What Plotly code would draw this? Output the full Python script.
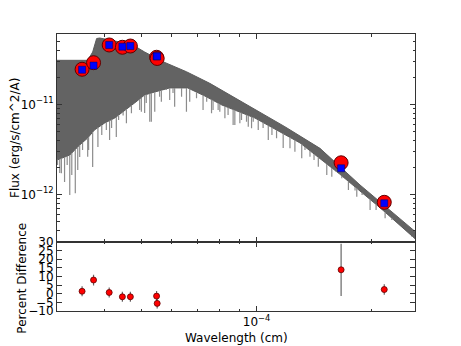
import numpy as np
import plotly.graph_objects as go
from plotly.subplots import make_subplots

# model spectrum: upper envelope, floor of the dense line forest, single deep lines
cont_wl = [3.00e-5, 3.61e-5, 3.72e-5, 3.81e-5, 3.88e-5, 4.38e-5, 4.79e-5, 5.09e-5, 5.69e-5,
           6.55e-5, 7.54e-5, 8.95e-5, 1.186e-4, 1.466e-4, 1.866e-4, 2.606e-4]
cont_flux = [3.08e-11, 3.08e-11, 3.81e-11, 5.38e-11, 5.45e-11, 4.92e-11, 4.44e-11, 3.81e-11, 2.97e-11,
             2.30e-11, 1.71e-11, 1.12e-11, 5.64e-12, 3.24e-12, 1.27e-12, 3.84e-13]

floor_wl = [3.00e-5, 3.24e-5, 3.44e-5, 3.61e-5, 3.76e-5, 4.00e-5, 4.25e-5, 4.43e-5, 4.79e-5, 5.09e-5,
            5.41e-5, 5.92e-5, 6.60e-5, 7.32e-5, 8.11e-5, 9.90e-5, 1.30e-4, 1.65e-4, 2.11e-4, 2.606e-4]
floor_flux = [2.40e-12, 2.73e-12, 3.53e-12, 4.22e-12, 5.18e-12, 6.20e-12, 7.04e-12, 8.01e-12, 1.034e-11, 1.27e-11,
              1.37e-11, 1.52e-11, 1.52e-11, 1.236e-11, 9.82e-12, 7.04e-12, 3.72e-12, 1.68e-12, 7.04e-13, 3.19e-13]

line_wl = [3.01e-5, 3.05e-5, 3.08e-5, 3.09e-5, 3.14e-5, 3.19e-5, 3.24e-5, 3.28e-5, 3.35e-5, 3.40e-5,
           3.44e-5, 3.50e-5, 3.54e-5, 3.61e-5, 3.63e-5, 3.72e-5, 3.84e-5, 3.93e-5, 4.04e-5, 4.12e-5,
           4.17e-5, 4.29e-5, 4.35e-5, 4.47e-5, 4.56e-5, 4.70e-5, 4.85e-5, 4.94e-5, 4.99e-5, 5.09e-5,
           5.14e-5, 5.25e-5, 5.30e-5, 5.41e-5, 5.57e-5, 5.63e-5, 5.80e-5, 5.92e-5, 6.04e-5, 6.10e-5,
           6.36e-5, 6.55e-5, 6.68e-5, 6.96e-5, 7.24e-5, 7.40e-5, 7.62e-5, 7.69e-5, 7.93e-5, 8.01e-5,
           8.26e-5, 8.42e-5, 8.68e-5, 8.77e-5, 9.04e-5, 9.13e-5, 9.41e-5, 9.51e-5, 9.70e-5, 9.80e-5,
           1.010e-4, 1.040e-4, 1.073e-4, 1.097e-4, 1.128e-4, 1.174e-4, 1.223e-4, 1.260e-4, 1.313e-4, 1.339e-4,
           1.380e-4, 1.414e-4, 1.451e-4, 1.527e-4, 1.574e-4, 1.615e-4, 1.672e-4, 1.740e-4, 1.811e-4, 1.830e-4,
           1.890e-4, 1.983e-4, 2.056e-4, 2.171e-4, 2.261e-4, 2.349e-4, 2.426e-4, 2.552e-4]
line_flux = [2.12e-12, 1.73e-12, 1.71e-12, 3.10e-12, 1.37e-12, 2.12e-12, 9.8e-13, 1.64e-12, 1.03e-12, 1.86e-12,
             2.60e-12, 3.10e-12, 4.80e-12, 2.62e-12, 3.10e-12, 2.01e-12, 3.35e-12, 4.56e-12, 5.18e-12, 4.01e-12,
             5.45e-12, 4.33e-12, 6.69e-12, 7.50e-12, 6.15e-12, 7.94e-12, 1.116e-11, 8.64e-12, 8.28e-12, 8.01e-12,
             1.034e-11, 6.41e-12, 6.41e-12, 8.28e-12, 1.214e-11, 1.069e-11, 1.442e-11, 1.116e-11, 1.335e-11, 9.40e-12,
             1.214e-11, 8.28e-12, 1.069e-11, 1.166e-11, 8.64e-12, 1.069e-11, 7.94e-12, 8.64e-12, 8.64e-12, 8.28e-12,
             6.99e-12, 7.61e-12, 5.89e-12, 5.89e-12, 6.15e-12, 6.69e-12, 6.41e-12, 5.64e-12, 5.41e-12, 6.41e-12,
             5.18e-12, 5.45e-12, 4.01e-12, 4.56e-12, 4.19e-12, 3.27e-12, 3.24e-12, 2.97e-12, 2.51e-12, 3.10e-12,
             2.62e-12, 2.40e-12, 2.03e-12, 1.64e-12, 1.57e-12, 1.77e-12, 1.51e-12, 1.116e-12, 1.10e-12, 9.40e-13,
             9.82e-13, 6.69e-13, 6.69e-13, 5.41e-13, 5.18e-13, 4.92e-13, 4.19e-13, 3.38e-13]

# photometry
phot_wl = [3.49e-5, 3.74e-5, 4.11e-5, 4.45e-5, 4.67e-5, 5.47e-5, 5.49e-5, 1.665e-4, 2.16e-4]
phot_flux = [2.45e-11, 2.90e-11, 4.56e-11, 4.30e-11, 4.44e-11, 3.33e-11, 3.23e-11, 2.24e-12, 8.15e-13]
model_flux = [2.42e-11, 2.69e-11, 4.56e-11, 4.37e-11, 4.44e-11, 3.41e-11, 3.41e-11, 1.945e-12, 7.94e-13]
pct_diff = [1.4, 7.9, 0.7, -1.8, -1.8, -1.4, -5.6, 13.8, 2.4]
pct_err = [2.9, 3.1, 2.9, 2.9, 2.9, 2.9, 3.0, 15.1, 3.0]

font = "DejaVu Sans"
frame = "#333333"

fig = make_subplots(rows=2, cols=1, shared_xaxes=True, vertical_spacing=0, row_heights=[0.75, 0.25])

# dense part of the spectrum as one band
band_x = list(cont_wl) + list(floor_wl[::-1])
band_y = list(cont_flux) + list(floor_flux[::-1])
fig.add_trace(go.Scatter(x=band_x, y=band_y, mode="lines", fill="toself", fillcolor="#636363",
                         line=dict(color="#5c5c5c", width=1), hoverinfo="skip"), row=1, col=1)

# deep single lines hang below the band (plotly puts fills under lines, so start them at the floor)
lfl = np.log10(floor_flux)
lx = []
ly = []
for w, f in zip(line_wl, line_flux):
    base = 10 ** np.interp(np.log10(w), np.log10(floor_wl), lfl)
    if f < base:
        lx += [w, w, None]
        ly += [base, f, None]
fig.add_trace(go.Scatter(x=lx, y=ly, mode="lines", line=dict(color="#8c8c8c", width=1.2),
                         hoverinfo="skip"), row=1, col=1)

fig.add_trace(go.Scatter(x=phot_wl, y=phot_flux, mode="markers",
                         marker=dict(symbol="circle", size=14, color="#ff0000",
                                     line=dict(color="#600000", width=1))), row=1, col=1)
fig.add_trace(go.Scatter(x=phot_wl, y=model_flux, mode="markers",
                         marker=dict(symbol="square", size=7, color="#0000ff",
                                     line=dict(color="#000060", width=0.5))), row=1, col=1)

# residuals
fig.add_hline(y=0, line=dict(color="#555555", width=1.5, dash="6px,3px"), row=2, col=1)
fig.add_trace(go.Scatter(x=phot_wl, y=pct_diff, mode="markers",
                         error_y=dict(type="data", array=pct_err, color="#666666", thickness=1.2, width=0),
                         marker=dict(symbol="circle", size=6, color="#ff0000",
                                     line=dict(color="#600000", width=0.8))), row=2, col=1)

xminor = [4e-5, 5e-5, 6e-5, 7e-5, 8e-5, 9e-5, 2e-4]
axis_common = dict(showline=True, linecolor=frame, linewidth=1, mirror="ticks", ticks="inside",
                   tickcolor=frame, ticklen=5, showgrid=False, zeroline=False, automargin=False,
                   tickfont=dict(family=font, size=12, color="black"))
fig.update_xaxes(type="log", range=[np.log10(3.0e-5), np.log10(2.6e-4)], tickvals=[1e-4],
                 ticktext=["10<sup>−4</sup>"],
                 minor=dict(ticks="inside", ticklen=2.5, tickcolor=frame, tickvals=xminor, showgrid=False),
                 **axis_common)
fig.update_yaxes(type="log", range=[-12.527, -10.219], tickvals=[1e-12, 1e-11],
                 ticktext=["10<sup>−12</sup>", "10<sup>−11</sup>"],
                 minor=dict(ticks="inside", ticklen=2.5, tickcolor=frame, showgrid=False,
                            tickvals=[3e-13, 4e-13, 5e-13, 6e-13, 7e-13, 8e-13, 9e-13,
                                      2e-12, 3e-12, 4e-12, 5e-12, 6e-12, 7e-12, 8e-12, 9e-12,
                                      2e-11, 3e-11, 4e-11, 5e-11, 6e-11]),
                 row=1, col=1, **axis_common)
fig.update_yaxes(range=[-10, 30], tickvals=[-10, -5, 0, 5, 10, 15, 20, 25, 30], row=2, col=1, **axis_common)

fig.add_annotation(text="Wavelength (cm)", xref="paper", yref="paper", x=0.5, y=-0.096,
                   showarrow=False, font=dict(family=font, size=12, color="black"), yanchor="middle")
fig.add_annotation(text="Flux (erg/s/cm^2/A)", xref="paper", yref="paper", x=-0.117, y=0.625,
                   textangle=-90, showarrow=False, font=dict(family=font, size=12, color="black"),
                   xanchor="center", yanchor="middle")
fig.add_annotation(text="Percent Difference", xref="paper", yref="paper", x=-0.098, y=0.12,
                   textangle=-90, showarrow=False, font=dict(family=font, size=12, color="black"),
                   xanchor="center", yanchor="middle")

# page body adds an 8px offset, so the figure is 8px smaller and margins are shifted
fig.update_layout(width=453, height=338, margin=dict(l=49, r=46, t=26, b=35),
                  showlegend=False, plot_bgcolor="white", paper_bgcolor="white",
                  font=dict(family=font, size=12, color="black"))
fig.write_html("out.html")
